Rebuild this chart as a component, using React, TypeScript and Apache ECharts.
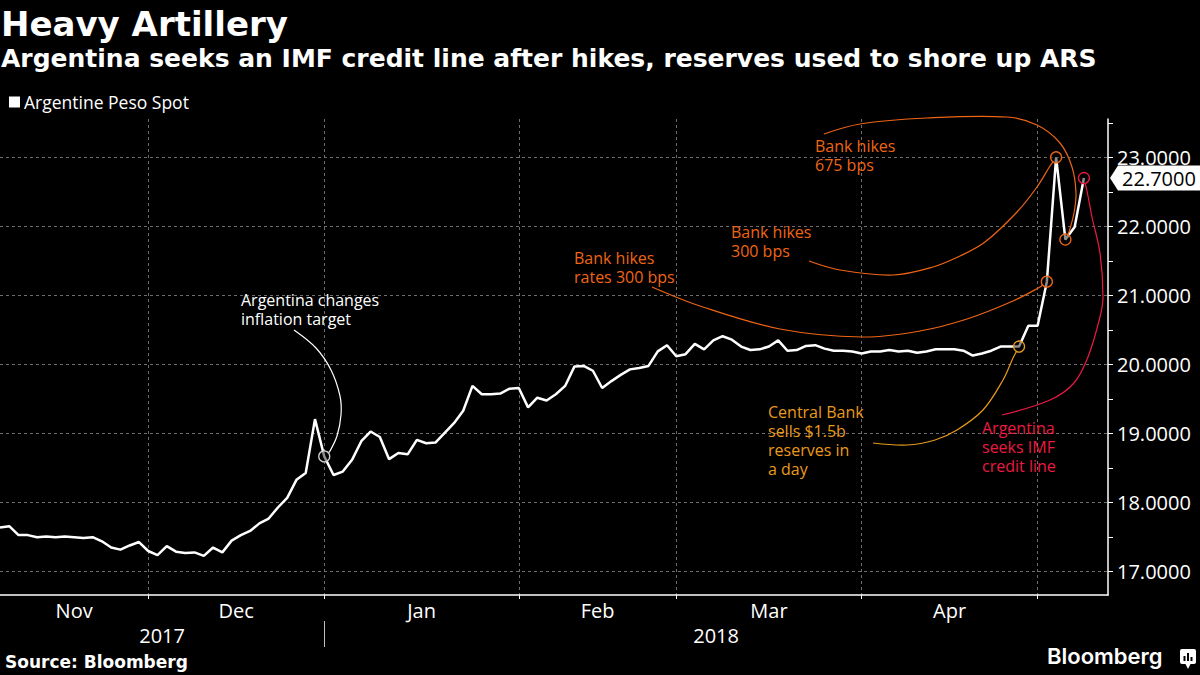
import { useEffect, useRef } from "react";
import * as echarts from "echarts";

const SERIES_NAME = "Argentine Peso Spot";

// Daily spot (trading-day index 0 = early Nov 2017 ... 117 = 8 May 2018)
const pesoSpot = [
  17.64, 17.66, 17.53, 17.53, 17.5, 17.51, 17.5, 17.51, 17.5, 17.49,
  17.5, 17.44, 17.35, 17.32, 17.38, 17.43, 17.3, 17.24, 17.37, 17.29,
  17.27, 17.28, 17.23, 17.35, 17.28, 17.45, 17.53, 17.59, 17.7, 17.77,
  17.93, 18.07, 18.33, 18.43, 19.21, 18.67, 18.4, 18.45, 18.62, 18.89,
  19.03, 18.95, 18.63, 18.72, 18.7, 18.91, 18.86, 18.87, 19.01, 19.15,
  19.33, 19.69, 19.57, 19.57, 19.58, 19.65, 19.66, 19.38, 19.52, 19.48,
  19.57, 19.69, 19.97, 19.98, 19.91, 19.66, 19.76, 19.85, 19.93, 19.95,
  19.98, 20.19, 20.28, 20.12, 20.15, 20.3, 20.22, 20.35, 20.41, 20.36,
  20.26, 20.21, 20.22, 20.26, 20.35, 20.2, 20.21, 20.27, 20.28, 20.23,
  20.2, 20.2, 20.19, 20.16, 20.19, 20.19, 20.21, 20.19, 20.2, 20.17,
  20.19, 20.22, 20.22, 20.22, 20.2, 20.13, 20.16, 20.2, 20.26, 20.26,
  20.26, 20.56, 20.56, 21.2, 23.0, 21.81, 21.99, 22.7,
];
const lastValue = 22.7;

// x axis (trading-day index)
const xMin = 0;
const xMax = 119.6;
const monthNames = ["Nov", "Dec", "Jan", "Feb", "Mar", "Apr"];
const monthLabelPos = [8, 25.5, 45.5, 64.5, 83, 102.5];
const monthBoundaries = [16, 35, 56, 73, 93, 112];
const yearNames = ["2017", "2018"];
const yearLabelPos = [17.5, 77.3];
const yearBoundaries = [35];

// y axis
const yMin = 16.663;
const yMax = 23.555;
const yLabels = [17, 18, 19, 20, 21, 22, 23];
const yTicks = [17, 17.5, 18, 18.5, 19, 19.5, 20, 20.5, 21, 21.5, 22, 22.5, 23, 23.5];

// annotations: index of the marked point, text, colour, text anchor and curve waypoints
const annotations = [
  {
    idx: 35,
    color: "#ffffff",
    ring: "#cfcfcf",
    lines: ["Argentina changes", "inflation target"],
    tx: 241,
    ty: 290,
    path: [[294, 330], [316, 348], [331, 370], [340, 396], [341, 415], [337, 436], [330, 451]],
  },
  {
    idx: 113,
    color: "#ee6515",
    ring: "#ee6515",
    lines: ["Bank hikes", "rates 300 bps"],
    tx: 574,
    ty: 248,
    path: [[652, 287], [700, 306], [780, 329], [862, 337], [920, 331], [967, 319], [1013, 301], [1040, 287]],
  },
  {
    idx: 114,
    color: "#ee6515",
    ring: "#ee6515",
    lines: ["Bank hikes", "300 bps"],
    tx: 731,
    ty: 222,
    path: [[809, 261], [840, 270], [893, 275], [933, 267], [960, 256], [985, 242], [1017, 212], [1037, 187], [1050, 166]],
  },
  {
    idx: 115,
    color: "#ee6515",
    ring: "#ee6515",
    lines: ["Bank hikes", "675 bps"],
    tx: 815,
    ty: 136,
    path: [[824, 134], [860, 124], [927, 118], [1007, 117], [1037, 125], [1060, 143], [1072, 167], [1076, 193], [1074, 213], [1069, 232]],
  },
  {
    idx: 110,
    color: "#ea9a1c",
    ring: "#ea9a1c",
    lines: ["Central Bank", "sells $1.5b", "reserves in", "a day"],
    tx: 768,
    ty: 402,
    path: [[873, 443], [907, 445], [935, 440], [957, 430], [983, 410], [1003, 380], [1013, 358]],
  },
  {
    idx: 117,
    color: "#ea1a42",
    ring: "#ea1a42",
    lines: ["Argentina", "seeks IMF", "credit line"],
    tx: 982,
    ty: 418,
    path: [[1002, 415], [1050, 400], [1074, 383], [1088, 357], [1100, 317], [1103, 297], [1100, 253], [1092, 217], [1087, 191]],
  },
];

const SANS = "'Open Sans', 'DejaVu Sans', sans-serif";
const BOLD = "'DejaVu Sans', sans-serif";
const GRID = "#6c6c6c";

export default function App() {
  const ref = useRef<HTMLDivElement>(null);

  useEffect(() => {
    const el = ref.current;
    if (!el) return;
    const chart = echarts.init(el, null, { renderer: "svg" });

    const option: any = {
      animation: false,
      backgroundColor: "#000000",
      title: [
        {
          text: "Heavy Artillery",
          left: 1,
          top: 7,
          padding: 0,
          textStyle: { color: "#fff", fontFamily: BOLD, fontWeight: "bold", fontSize: 34 },
        },
        {
          text: "Argentina seeks an IMF credit line after hikes, reserves used to shore up ARS",
          left: 1,
          top: 46,
          padding: 0,
          textStyle: { color: "#fff", fontFamily: BOLD, fontWeight: "bold", fontSize: 25 },
        },
        {
          text: "Source: Bloomberg",
          left: 5,
          top: 653,
          padding: 0,
          textStyle: { color: "#fff", fontFamily: BOLD, fontWeight: "bold", fontSize: 17 },
        },
        {
          text: "Bloomberg",
          left: 1047,
          top: 645,
          padding: 0,
          textStyle: { color: "#fff", fontFamily: "Inter, sans-serif", fontWeight: 600, fontSize: 22 },
        },
      ],
      legend: {
        data: [SERIES_NAME],
        left: 4,
        top: 88,
        icon: "rect",
        itemWidth: 11,
        itemHeight: 11,
        itemGap: 10,
        textStyle: { color: "#fff", fontFamily: SANS, fontSize: 17.5, padding: [0, 0, 0, -1] },
      },
      grid: { left: 0, right: 92, top: 119, bottom: 80, containLabel: false },
      xAxis: [
        {
          type: "value",
          min: xMin,
          max: xMax,
          position: "bottom",
          axisLine: { show: true, onZero: false, lineStyle: { color: "#fff", width: 1.5 } },
          axisTick: { show: true, customValues: monthBoundaries, length: 4, lineStyle: { color: "#fff" } },
          axisLabel: {
            show: true,
            customValues: monthLabelPos,
            margin: 5,
            color: "#fff",
            fontFamily: SANS,
            fontSize: 20,
            formatter: (v: number) => monthNames[monthLabelPos.indexOf(v)] ?? "",
          },
          splitLine: { show: true, lineStyle: { color: GRID, type: [3, 3], width: 1 } },
        },
        {
          type: "value",
          min: xMin,
          max: xMax,
          position: "bottom",
          offset: 26,
          axisLine: { show: false, onZero: false },
          axisTick: { show: true, customValues: yearBoundaries, length: 26, lineStyle: { color: "#bdbdbd" } },
          axisLabel: {
            show: true,
            customValues: yearLabelPos,
            margin: 4,
            color: "#fff",
            fontFamily: SANS,
            fontSize: 20,
            formatter: (v: number) => yearNames[yearLabelPos.indexOf(v)] ?? "",
          },
          splitLine: { show: false },
        },
      ],
      yAxis: [
        {
          type: "value",
          position: "right",
          min: yMin,
          max: yMax,
          axisLine: { show: true, onZero: false, lineStyle: { color: "#fff", width: 1.5 } },
          axisTick: { show: true, customValues: yTicks, length: 5, lineStyle: { color: "#fff" } },
          axisLabel: {
            show: true,
            customValues: yLabels,
            margin: 9,
            color: "#fff",
            fontFamily: SANS,
            fontSize: 20,
            formatter: (v: number) => v.toFixed(4),
          },
          splitLine: { show: false },
        },
      ],
      series: [
        {
          name: SERIES_NAME,
          type: "line",
          xAxisIndex: 0,
          yAxisIndex: 0,
          data: pesoSpot.map((v, i) => [i, v]),
          showSymbol: false,
          symbol: "none",
          color: "#ffffff",
          lineStyle: { color: "#ffffff", width: 2.5 },
          z: 3,
          markLine: {
            silent: true,
            z: 1,
            symbol: "none",
            label: { show: false },
            lineStyle: { color: GRID, type: [3, 3], width: 1 },
            data: yLabels.map((v) => ({ yAxis: v })),
          },
          markPoint: {
            symbol: "path://M0,12.5 L8,0 L90,0 L90,25 L8,25 Z",
            symbolSize: [90, 25],
            symbolOffset: [47, 0],
            itemStyle: { color: "#ffffff" },
            label: {
              show: true,
              position: "inside",
              offset: [4, 0],
              color: "#000",
              fontFamily: SANS,
              fontSize: 20,
              formatter: () => lastValue.toFixed(4),
            },
            data: [{ coord: [xMax, lastValue] }],
          },
        },
      ],
    };

    chart.setOption(option);

    const graphics: any[] = [];
    const R = 5.5;
    annotations.forEach((a, k) => {
      const c = chart.convertToPixel({ seriesIndex: 0 }, [a.idx, pesoSpot[a.idx]]) as number[];
      const last = a.path[a.path.length - 1];
      const dx = c[0] - last[0];
      const dy = c[1] - last[1];
      const d = Math.sqrt(dx * dx + dy * dy) || 1;
      const end = [c[0] - (dx / d) * R, c[1] - (dy / d) * R];
      graphics.push({
        type: "polyline",
        id: "curve" + k,
        silent: true,
        z: 10,
        shape: { points: [...a.path, end], smooth: 0.35 },
        style: { stroke: a.color, lineWidth: 1.2, fill: null },
      });
      graphics.push({
        type: "circle",
        id: "ring" + k,
        silent: true,
        z: 11,
        shape: { cx: c[0], cy: c[1], r: R },
        style: { stroke: a.ring, lineWidth: 1.3, fill: "rgba(0,0,0,0.45)" },
      });
      graphics.push({
        type: "text",
        id: "text" + k,
        silent: true,
        z: 12,
        x: a.tx,
        y: a.ty,
        style: {
          text: a.lines.join("\n"),
          fill: a.color,
          fontFamily: SANS,
          fontSize: 16,
          lineHeight: 19,
          align: "left",
          verticalAlign: "top",
        },
      });
    });

    // Bloomberg mark
    graphics.push({
      type: "group",
      id: "logo",
      silent: true,
      children: [
        { type: "rect", shape: { x: 1180, y: 649, width: 16, height: 15, r: 2 }, style: { fill: "#fff" } },
        { type: "polygon", shape: { points: [[1185, 663], [1191, 663], [1188, 669]] }, style: { fill: "#fff" } },
        { type: "rect", shape: { x: 1183.5, y: 656, width: 2, height: 5 }, style: { fill: "#000" } },
        { type: "rect", shape: { x: 1187, y: 653, width: 2, height: 8 }, style: { fill: "#000" } },
        { type: "rect", shape: { x: 1190.5, y: 657, width: 2, height: 4 }, style: { fill: "#000" } },
      ],
    });

    chart.setOption({ graphic: graphics });

    return () => {
      chart.dispose();
    };
  }, []);

  return (
    <div
      ref={ref}
      style={{ position: "fixed", left: 0, top: 0, width: 1200, height: 675, background: "#000" }}
    />
  );
}
